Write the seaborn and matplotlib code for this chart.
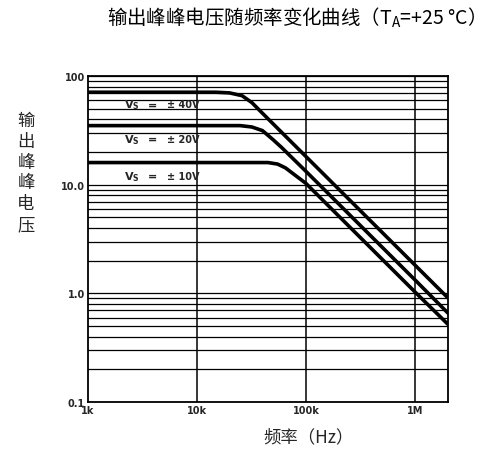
import matplotlib
matplotlib.use("Agg")
import matplotlib.pyplot as plt
import seaborn as sns
import pandas as pd
from matplotlib.ticker import FixedLocator, NullFormatter, NullLocator

# ---- data ----
freq_40v = [1e3, 1.5e4, 2.0e4, 2.6e4, 3.2e4, 4.0e4, 5.0e4, 1e5, 1e6, 2e6]
vpp_40v = [71, 71, 70, 66, 57, 45.5, 36.4, 18.2, 1.82, 0.91]
freq_20v = [1e3, 2.5e4, 3.2e4, 4.0e4, 5.0e4, 6.0e4, 1e5, 1e6, 2e6]
vpp_20v = [35, 35, 34, 31.5, 26, 22, 13.3, 1.33, 0.66]
freq_10v = [1e3, 4.5e4, 5.5e4, 6.5e4, 8.0e4, 1e5, 1e6, 2e6]
vpp_10v = [16, 16, 15.5, 14.3, 12.2, 10.3, 1.03, 0.52]
series_labels = ["± 40V", "± 20V", "± 10V"]

x_ticks = [1e3, 1e4, 1e5, 1e6]
x_tick_labels = ["1k", "10k", "100k", "1M"]
y_ticks = [0.1, 1, 10, 100]
y_tick_labels = ["0.1", "1.0", "10.0", "100"]

title = "输出峰峰电压随频率变化曲线（T$_\\mathregular{A}$=+25 °C）"
x_label = "频率（Hz）"
y_label = "输出峰峰电压"

# ---- build table ----
frames = []
for lab, f, v in zip(series_labels, [freq_40v, freq_20v, freq_10v],
                     [vpp_40v, vpp_20v, vpp_10v]):
    frames.append(pd.DataFrame({"freq": f, "vpp": v, "vs": lab}))
df = pd.concat(frames, ignore_index=True)

sns.set_style("white")
plt.rcParams["font.family"] = ["Noto Sans CJK SC", "DejaVu Sans"]
plt.rcParams["mathtext.fontset"] = "custom"
plt.rcParams["mathtext.rm"] = "Noto Sans CJK SC"

fig = plt.figure(figsize=(4.89, 4.56), dpi=100)
ax = fig.add_axes([0.179, 0.116, 0.737, 0.715])

ax.set_xscale("log")
ax.set_yscale("log")
ax.set_xlim(1e3, 2e6)
ax.set_ylim(0.1, 100)

# grid: decades vertically, full minor horizontally
minor_y = [m * 10.0 ** e for e in (-1, 0, 1) for m in range(2, 10)]
for yv in minor_y + y_ticks:
    ax.axhline(yv, color="black", lw=0.9, zorder=1)
for xv in x_ticks[1:]:
    ax.axvline(xv, color="black", lw=1.1, zorder=1)

sns.lineplot(data=df, x="freq", y="vpp", hue="vs", palette=["black"] * 3,
             lw=2.6, legend=False, sort=False, estimator=None, ax=ax, zorder=3)

ax.xaxis.set_major_locator(FixedLocator(x_ticks))
ax.set_xticklabels(x_tick_labels)
ax.xaxis.set_minor_locator(NullLocator())
ax.xaxis.set_minor_formatter(NullFormatter())
ax.yaxis.set_major_locator(FixedLocator(y_ticks))
ax.set_yticklabels(y_tick_labels)
ax.yaxis.set_minor_locator(NullLocator())
ax.yaxis.set_minor_formatter(NullFormatter())
ax.tick_params(axis="both", which="major", length=3, width=1, direction="in",
               labelsize=7, pad=2)
for t in ax.get_xticklabels() + ax.get_yticklabels():
    t.set_fontweight("bold")
    t.set_family(["DejaVu Sans"])
ax.set_xlabel("")
ax.set_ylabel("")
for s in ax.spines.values():
    s.set_color("black")
    s.set_linewidth(1.3)

# in-plot labels
for lab, yv in zip(series_labels, [55, 26.5, 12.0]):
    ax.text(2.55e3, yv, "V$_\\mathbf{S}$", fontsize=8, fontweight="bold",
            family=["DejaVu Sans"], va="center", ha="center", zorder=4)
    ax.text(3.9e3, yv, "=", fontsize=8, fontweight="bold",
            family=["DejaVu Sans"], va="center", ha="center", zorder=4)
    ax.text(5.3e3, yv, lab, fontsize=7, fontweight="bold",
            family=["DejaVu Sans"], va="center", ha="left", zorder=4)

fig.text(107 / 489, 1 - 18 / 456, title, fontsize=14, ha="left", va="center",
         color="black", fontweight="medium")
fig.text(309 / 489, 1 - 437 / 456, x_label, fontsize=12.5, ha="center",
         va="center")
fig.text(26 / 489, 1 - 173 / 456, "\n".join(y_label), fontsize=12.5,
         ha="center", va="center", linespacing=1.2)

fig.savefig("out.png", dpi=100, facecolor="white")
